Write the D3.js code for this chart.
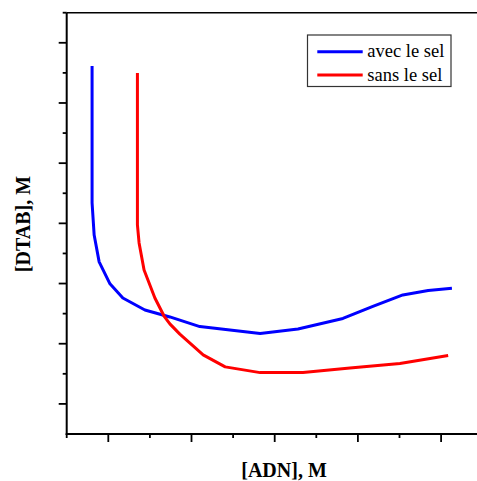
<!DOCTYPE html>
<html>
<head>
<meta charset="utf-8">
<script src="https://cdn.jsdelivr.net/npm/d3@7/dist/d3.min.js"></script>
</head>
<body style="margin:0">
<svg id="chart" width="477" height="481" font-family="Liberation Serif" style="display:block"></svg>
<script>
// Data (arbitrary axis units; no tick labels on the original)
const blueX = [0.61, 0.61, 0.66, 0.78, 1.04, 1.35, 1.88, 2.48, 3.20, 4.65, 5.56, 6.64, 7.36, 8.08, 8.69, 9.26];
const blueY = [12.23, 7.68, 6.61, 5.72, 4.99, 4.52, 4.12, 3.89, 3.57, 3.34, 3.49, 3.84, 4.24, 4.62, 4.77, 4.84];
const redX  = [1.70, 1.70, 1.74, 1.86, 2.12, 2.34, 2.48, 2.72, 3.28, 3.81, 4.65, 5.68, 6.81, 8.01, 9.17];
const redY  = [12.00, 6.95, 6.35, 5.45, 4.52, 3.92, 3.66, 3.32, 2.63, 2.23, 2.04, 2.04, 2.19, 2.34, 2.61];
const seriesNames = ["avec le sel", "sans le sel"];
const seriesColors = ["#0000ff", "#ff0000"];
const xTickValues = d3.range(0, 11, 1);
const yTickValues = d3.range(0, 15, 1);
const xLabel = "[ADN], M";
const yLabel = "[DTAB], M";

const svg = d3.select("#chart");

const x = d3.scaleLinear().domain([0, 10]).range([66.7, 482.7]);
const y = d3.scaleLinear().domain([0, 14]).range([434, 12.7]);

// top frame line
svg.append("line")
  .attr("x1", x(0)).attr("x2", 477)
  .attr("y1", y(14)).attr("y2", y(14))
  .attr("stroke", "#000").attr("stroke-width", 1.6);

// X axis
const gx = svg.append("g").attr("transform", `translate(0,${y(0)})`);
gx.append("line").attr("x1", x(0) - 1).attr("x2", 477)
  .attr("stroke", "#000").attr("stroke-width", 2);
gx.selectAll("line.tick").data(xTickValues).join("line")
  .attr("class", "tick")
  .attr("x1", d => x(d)).attr("x2", d => x(d))
  .attr("y1", 0).attr("y2", d => (d % 2 === 1 ? 8 : 4))
  .attr("stroke", "#000").attr("stroke-width", 1.8);

// Y axis
const gy = svg.append("g").attr("transform", `translate(${x(0)},0)`);
gy.append("line").attr("y1", y(14)).attr("y2", y(0) + 1)
  .attr("stroke", "#000").attr("stroke-width", 2);
gy.selectAll("line.tick").data(yTickValues.filter(d => d > 0)).join("line")
  .attr("class", "tick")
  .attr("y1", d => y(d)).attr("y2", d => y(d))
  .attr("x1", d => (d % 2 === 1 ? -8 : -4)).attr("x2", 0)
  .attr("stroke", "#000").attr("stroke-width", 1.8);

// Lines
const line = d3.line().x(d => x(d[0])).y(d => y(d[1]));
const blueData = blueX.map((v, i) => [v, blueY[i]]);
const redData = redX.map((v, i) => [v, redY[i]]);
[blueData, redData].forEach((data, i) => {
  svg.append("path").datum(data)
    .attr("d", line)
    .attr("fill", "none")
    .attr("stroke", seriesColors[i])
    .attr("stroke-width", 3)
    .attr("stroke-linejoin", "round");
});

// Axis labels
svg.append("text")
  .attr("x", 284).attr("y", 477)
  .attr("text-anchor", "middle")
  .attr("font-family", "Liberation Serif")
  .attr("font-weight", "bold").attr("font-size", 20)
  .text(xLabel);
svg.append("text")
  .attr("transform", "translate(29.5,224) rotate(-90)")
  .attr("text-anchor", "middle")
  .attr("font-family", "Liberation Serif")
  .attr("font-weight", "bold").attr("font-size", 20)
  .text(yLabel);

// Legend
const lg = svg.append("g");
lg.append("rect")
  .attr("x", 307.5).attr("y", 35).attr("width", 143.5).attr("height", 51.5)
  .attr("fill", "#fff").attr("stroke", "#333").attr("stroke-width", 1.2);
seriesNames.forEach((name, i) => {
  const ly = [51.7, 75][i];
  lg.append("line")
    .attr("x1", 317.3).attr("x2", 362.7).attr("y1", ly).attr("y2", ly)
    .attr("stroke", seriesColors[i]).attr("stroke-width", 3);
  lg.append("text")
    .attr("x", 367.3).attr("y", [57.3, 81][i])
    .attr("font-family", "Liberation Serif")
    .attr("font-size", 18.5)
    .text(name);
});
</script>
</body>
</html>
